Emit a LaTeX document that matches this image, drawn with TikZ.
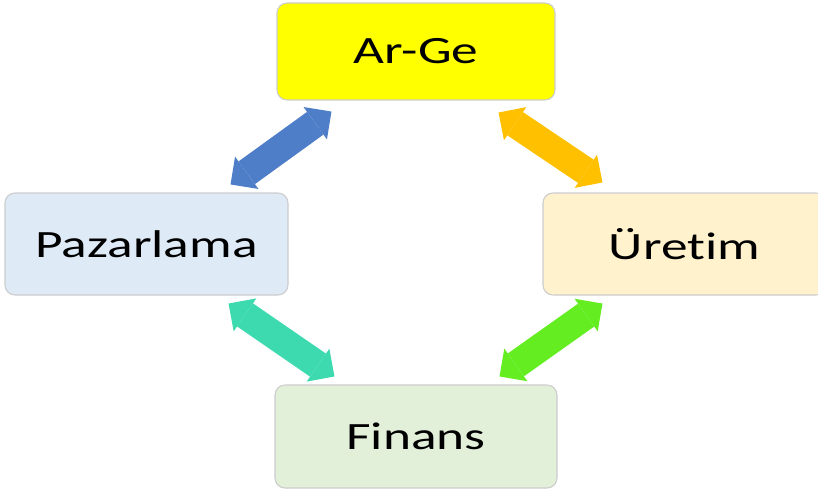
\documentclass[tikz,border=0pt]{standalone}
\usepackage{fontspec}
\setmainfont{Carlito}[FakeStretch=1.38,Ligatures=NoCommon]
\usetikzlibrary{arrows.meta}
\usepackage{xcolor}
\definecolor{argefill}{HTML}{FFFF00}
\definecolor{pazfill}{HTML}{DEEBF7}
\definecolor{uretfill}{HTML}{FFF2CC}
\definecolor{finfill}{HTML}{E2F0D9}
\definecolor{blueA}{HTML}{4F7EC9}
\definecolor{orangeA}{HTML}{FFC000}
\definecolor{tealA}{HTML}{3DDAB0}
\definecolor{greenA}{HTML}{64EE22}
\tikzset{
  box/.style={draw=black!20,line width=.8pt,rounded corners=7.5pt,inner sep=0pt,
    text=black,font=\fontsize{29}{35}\selectfont},
  dblarrow/.style={line width=21pt,
    {Triangle[width=30pt,length=15pt,line width=0pt]}-{Triangle[width=30pt,length=15pt,line width=0pt]}}
}

\begin{document}
\begin{tikzpicture}[x=0.75pt,y=-0.75pt]
\useasboundingbox (0,0) rectangle (818,492);
\node[box,fill=argefill,minimum width=208.5pt,minimum height=72.75pt] (arge) at (416,51.5) {Ar-Ge};
\node[box,fill=pazfill,minimum width=212.25pt,minimum height=76.5pt] (paz) at (146.5,244) {Pazarlama};
\node[box,fill=uretfill,minimum width=212.25pt,minimum height=76.5pt] (uret) at (684.5,244) {Üretim};
\node[box,fill=finfill,minimum width=211.5pt,minimum height=77.25pt] (fin) at (416,436.5) {Finans};
\draw[dblarrow,blueA] ([shift={(-58,-8)}]paz.north east) -- ([shift={(55,11)}]arge.south west);
\draw[dblarrow,orangeA] ([shift={(-57,12)}]arge.south east) -- ([shift={(60,-10)}]uret.north west);
\draw[dblarrow,tealA] ([shift={(-60,8)}]paz.south east) -- ([shift={(60,-8)}]fin.north west);
\draw[dblarrow,greenA] ([shift={(-58,-8)}]fin.north east) -- ([shift={(60,8)}]uret.south west);
\end{tikzpicture}
\end{document}
